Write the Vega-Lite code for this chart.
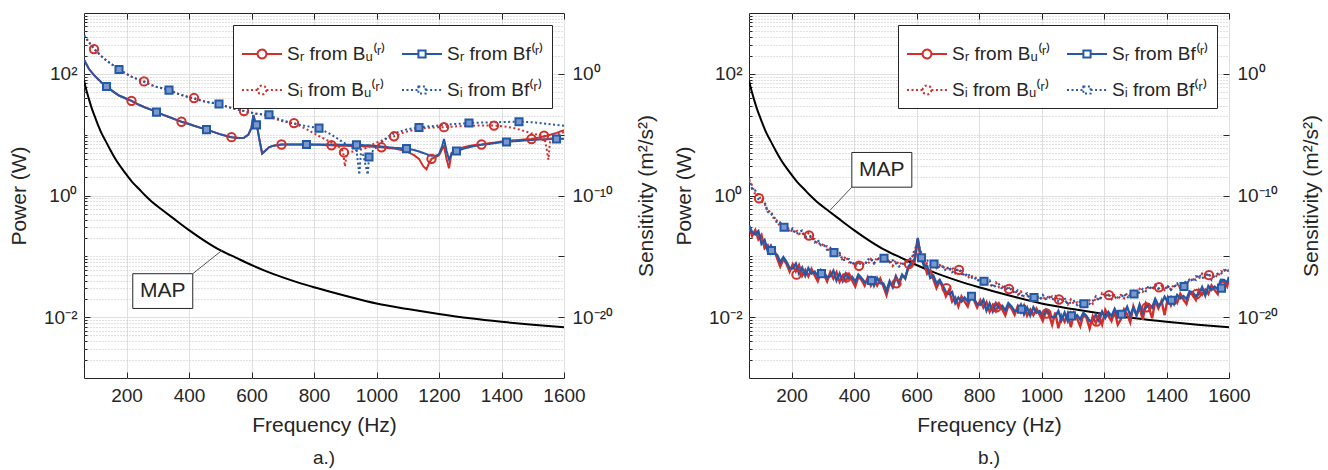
{
"$schema": "https://vega.github.io/schema/vega-lite/v6.json",
"background": "white",
"padding": {"left": 8, "top": 12, "right": 5, "bottom": 5},
"bounds": "flush",
"spacing": 185,
"config": {
  "font": "Liberation Sans",
  "view": {"stroke": "#262626", "strokeWidth": 1},
  "axis": {"labelFontSize": 19, "titleFontSize": 21, "titleFontWeight": "normal", "labelColor": "#262626", "titleColor": "#262626", "tickColor": "#262626", "domain": false, "gridColor": "#e0e0e0", "gridOpacity": 1},
  "title": {"color": "#262626"}
},
"datasets": {
  "map": [
    {"f":64,"v":78},{"f":70,"v":58},{"f":80,"v":38},{"f":90,"v":26},{"f":100,"v":19},{"f":110,"v":14},{"f":120,"v":10.6},{"f":133,"v":7.9},{"f":150,"v":5.4},{"f":167,"v":3.8},{"f":185,"v":2.8},{"f":200,"v":2.2},{"f":220,"v":1.63},{"f":240,"v":1.28},{"f":260,"v":1.0},{"f":280,"v":0.8},{"f":300,"v":0.66},{"f":320,"v":0.55},{"f":350,"v":0.42},{"f":400,"v":0.27},{"f":450,"v":0.18},{"f":500,"v":0.126},{"f":550,"v":0.095},{"f":600,"v":0.072},{"f":650,"v":0.056},{"f":700,"v":0.045},{"f":750,"v":0.037},{"f":800,"v":0.031},{"f":900,"v":0.0225},{"f":1000,"v":0.0168},{"f":1100,"v":0.0136},{"f":1200,"v":0.0113},{"f":1300,"v":0.0096},{"f":1400,"v":0.0084},{"f":1500,"v":0.0075},{"f":1600,"v":0.0068}
  ],
  "a_lines": [
    {"f":64,"a":170,"b":170,"c":430,"d":430},{"f":80,"a":120,"b":120,"c":330,"d":330},{"f":96,"a":95,"b":95,"c":255,"d":260},{"f":120,"a":72,"b":72,"c":195,"d":195},{"f":136,"a":62,"b":62,"c":165,"d":165},{"f":160,"a":50,"b":50,"c":135,"d":135},{"f":176,"a":44,"b":44,"c":118,"d":118},{"f":200,"a":39,"b":39,"c":100,"d":100},{"f":216,"a":36,"b":36,"c":90,"d":90},{"f":240,"a":31,"b":31,"c":80,"d":80},{"f":256,"a":28.5,"b":28.5,"c":75,"d":74},{"f":280,"a":25.5,"b":25.5,"c":66,"d":65},{"f":296,"a":23.5,"b":23.5,"c":61,"d":61},{"f":320,"a":21,"b":21,"c":57,"d":57},{"f":336,"a":19.5,"b":19.5,"c":54,"d":54},{"f":360,"a":17.5,"b":17.5,"c":48,"d":48},{"f":376,"a":16.3,"b":16.3,"c":45,"d":45},{"f":400,"a":15,"b":15,"c":41.5,"d":41},{"f":416,"a":14,"b":14,"c":40,"d":39},{"f":440,"a":12.8,"b":12.8,"c":36.5,"d":36},{"f":456,"a":12.1,"b":12.1,"c":34.5,"d":34.5},{"f":480,"a":11,"b":11,"c":33,"d":33},{"f":496,"a":10.3,"b":10.3,"c":31.5,"d":32},{"f":520,"a":9.5,"b":9.5,"c":29,"d":29},{"f":536,"a":9.1,"b":9.1,"c":27.5,"d":27.5},{"f":560,"a":8.8,"b":8.8,"c":25.5,"d":25.5},{"f":576,"a":8.9,"b":8.9,"c":24.5,"d":24.5},{"f":590,"a":10,"b":10,"c":23.5,"d":23.5},{"f":600,"a":13,"b":13,"c":23,"d":23},{"f":606,"a":21,"b":21,"c":22.5,"d":22.5},{"f":612,"a":16,"b":16,"c":22,"d":22},{"f":618,"a":13.5,"b":13.5,"c":22,"d":22},{"f":626,"a":8,"b":8,"c":21.8,"d":21.8},{"f":634,"a":4.9,"b":4.9,"c":21.5,"d":21.7},{"f":645,"a":5.5,"b":5.5,"c":20.7,"d":21.5},{"f":656,"a":6.2,"b":6.2,"c":20,"d":21.3},{"f":670,"a":6.6,"b":6.6,"c":18.5,"d":19.5},{"f":696,"a":6.9,"b":6.9,"c":16.8,"d":17.5},{"f":720,"a":6.9,"b":6.9,"c":15.8,"d":16},{"f":736,"a":6.9,"b":6.9,"c":15.5,"d":15.3},{"f":760,"a":6.9,"b":6.9,"c":13.5,"d":14.3},{"f":776,"a":6.9,"b":6.9,"c":12.3,"d":13.8},{"f":800,"a":6.8,"b":6.9,"c":10.5,"d":13.2},{"f":816,"a":6.8,"b":6.9,"c":9.5,"d":12.8},{"f":840,"a":6.7,"b":6.9,"c":8.2,"d":11},{"f":856,"a":6.7,"b":6.9,"c":7.5,"d":10},{"f":870,"a":6.6,"b":6.9,"c":6.8,"d":9},{"f":885,"a":6.6,"b":6.8,"c":6.0,"d":8},{"f":893,"a":6.6,"b":6.8,"c":5.3,"d":7.5},{"f":899,"a":6.6,"b":6.8,"c":3.0,"d":7.2},{"f":905,"a":6.6,"b":6.8,"c":5.0,"d":6.9},{"f":915,"a":6.5,"b":6.8,"c":5.2,"d":6.4},{"f":936,"a":6.5,"b":6.8,"c":5.4,"d":5.5},{"f":945,"a":6.5,"b":6.8,"c":5.6,"d":2.2},{"f":950,"a":6.5,"b":6.8,"c":5.7,"d":5.0},{"f":958,"a":6.4,"b":6.7,"c":5.8,"d":4.6},{"f":966,"a":6.4,"b":6.7,"c":6.0,"d":3.0},{"f":972,"a":6.4,"b":6.7,"c":6.2,"d":2.2},{"f":976,"a":6.4,"b":6.7,"c":6.3,"d":4.3},{"f":990,"a":6.3,"b":6.6,"c":7.0,"d":5.6},{"f":1016,"a":6.2,"b":6.4,"c":8.0,"d":7.5},{"f":1040,"a":6.0,"b":6.2,"c":8.9,"d":9.5},{"f":1056,"a":5.9,"b":6.1,"c":9.4,"d":10.5},{"f":1080,"a":5.6,"b":6.0,"c":10.5,"d":11.5},{"f":1096,"a":5.3,"b":5.9,"c":11.2,"d":12.2},{"f":1120,"a":4.6,"b":5.6,"c":12,"d":12.8},{"f":1136,"a":4.0,"b":5.3,"c":12.4,"d":13.1},{"f":1150,"a":3.0,"b":5.0,"c":12.7,"d":13.4},{"f":1160,"a":2.7,"b":4.8,"c":12.9,"d":13.6},{"f":1168,"a":3.4,"b":4.6,"c":13,"d":13.7},{"f":1176,"a":4.0,"b":4.5,"c":13.1,"d":13.8},{"f":1190,"a":4.3,"b":4.5,"c":13.2,"d":14},{"f":1200,"a":4.6,"b":4.8,"c":13.2,"d":14.2},{"f":1210,"a":5.8,"b":6.5,"c":13.3,"d":14.4},{"f":1216,"a":6.5,"b":8.5,"c":13.3,"d":14.5},{"f":1224,"a":4.0,"b":5.5,"c":13.4,"d":14.6},{"f":1232,"a":2.8,"b":3.9,"c":13.4,"d":14.7},{"f":1240,"a":5.0,"b":4.8,"c":13.5,"d":14.8},{"f":1256,"a":5.8,"b":5.4,"c":13.7,"d":15},{"f":1280,"a":6.2,"b":5.9,"c":13.9,"d":15.3},{"f":1296,"a":6.5,"b":6.2,"c":14,"d":15.5},{"f":1320,"a":6.8,"b":6.6,"c":14.1,"d":15.7},{"f":1336,"a":6.9,"b":6.8,"c":14.1,"d":15.8},{"f":1360,"a":7.2,"b":7.0,"c":14.1,"d":15.9},{"f":1376,"a":7.4,"b":7.2,"c":14.1,"d":16},{"f":1400,"a":7.7,"b":7.5,"c":13.8,"d":16.1},{"f":1416,"a":7.9,"b":7.6,"c":13.5,"d":16.2},{"f":1440,"a":8.1,"b":7.8,"c":12.8,"d":16.3},{"f":1456,"a":8.2,"b":7.9,"c":12.2,"d":16.3},{"f":1480,"a":8.4,"b":8.1,"c":11.2,"d":16.2},{"f":1496,"a":8.5,"b":8.2,"c":10.5,"d":16},{"f":1520,"a":9.0,"b":8.3,"c":9.9,"d":15.6},{"f":1536,"a":9.4,"b":8.4,"c":9.6,"d":15.3},{"f":1544,"a":9.6,"b":8.4,"c":6.0,"d":15.1},{"f":1550,"a":9.8,"b":8.4,"c":3.9,"d":15},{"f":1556,"a":10,"b":8.5,"c":8.5,"d":14.9},{"f":1576,"a":10.7,"b":8.5,"c":10,"d":14.5},{"f":1600,"a":11.8,"b":8.6,"c":11,"d":14}
  ],
  "a_mk": [
    {"f":216,"v":36,"s":"a"},{"f":376,"v":16.3,"s":"a"},{"f":536,"v":9.1,"s":"a"},{"f":696,"v":6.9,"s":"a"},{"f":856,"v":6.7,"s":"a"},{"f":1016,"v":6.2,"s":"a"},{"f":1176,"v":4.0,"s":"a"},{"f":1336,"v":6.9,"s":"a"},{"f":1496,"v":8.5,"s":"a"},
    {"f":136,"v":62,"s":"b"},{"f":296,"v":23.5,"s":"b"},{"f":456,"v":12.1,"s":"b"},{"f":616,"v":14.5,"s":"b"},{"f":776,"v":6.9,"s":"b"},{"f":936,"v":6.8,"s":"b"},{"f":1096,"v":5.9,"s":"b"},{"f":1256,"v":5.4,"s":"b"},{"f":1416,"v":7.6,"s":"b"},{"f":1576,"v":8.5,"s":"b"},
    {"f":96,"v":255,"s":"c"},{"f":256,"v":75,"s":"c"},{"f":416,"v":40,"s":"c"},{"f":576,"v":24.5,"s":"c"},{"f":736,"v":15.5,"s":"c"},{"f":896,"v":5.1,"s":"c"},{"f":1056,"v":9.4,"s":"c"},{"f":1216,"v":13.3,"s":"c"},{"f":1376,"v":14.1,"s":"c"},{"f":1536,"v":9.6,"s":"c"},
    {"f":176,"v":118,"s":"d"},{"f":336,"v":54,"s":"d"},{"f":496,"v":32,"s":"d"},{"f":656,"v":21.3,"s":"d"},{"f":816,"v":12.8,"s":"d"},{"f":976,"v":4.3,"s":"d"},{"f":1136,"v":13.1,"s":"d"},{"f":1296,"v":15.5,"s":"d"},{"f":1456,"v":16.3,"s":"d"}
  ],
  "b_mk": [
    {"f":216,"v":0.05,"s":"a"},{"f":376,"v":0.045,"s":"a"},{"f":536,"v":0.036,"s":"a"},{"f":696,"v":0.03,"s":"a"},{"f":856,"v":0.0145,"s":"a"},{"f":1016,"v":0.0115,"s":"a"},{"f":1176,"v":0.0085,"s":"a"},{"f":1336,"v":0.0145,"s":"a"},{"f":1496,"v":0.024,"s":"a"},
    {"f":136,"v":0.125,"s":"b"},{"f":296,"v":0.052,"s":"b"},{"f":456,"v":0.04,"s":"b"},{"f":616,"v":0.095,"s":"b"},{"f":776,"v":0.022,"s":"b"},{"f":936,"v":0.0135,"s":"b"},{"f":1096,"v":0.0105,"s":"b"},{"f":1256,"v":0.0112,"s":"b"},{"f":1416,"v":0.019,"s":"b"},{"f":1576,"v":0.03,"s":"b"},
    {"f":96,"v":0.9,"s":"c"},{"f":256,"v":0.22,"s":"c"},{"f":416,"v":0.07,"s":"c"},{"f":576,"v":0.075,"s":"c"},{"f":736,"v":0.06,"s":"c"},{"f":896,"v":0.029,"s":"c"},{"f":1056,"v":0.0195,"s":"c"},{"f":1216,"v":0.023,"s":"c"},{"f":1376,"v":0.031,"s":"c"},{"f":1536,"v":0.049,"s":"c"},
    {"f":176,"v":0.3,"s":"d"},{"f":336,"v":0.115,"s":"d"},{"f":496,"v":0.093,"s":"d"},{"f":656,"v":0.075,"s":"d"},{"f":816,"v":0.039,"s":"d"},{"f":976,"v":0.021,"s":"d"},{"f":1136,"v":0.0166,"s":"d"},{"f":1296,"v":0.024,"s":"d"},{"f":1456,"v":0.032,"s":"d"}
  ],
  "b_lines": [
    {"f":64,"a":0.30,"b":0.32,"c":1.8,"d":1.9},{"f":74,"a":0.216,"b":0.25,"c":1.46,"d":1.28},{"f":84,"a":0.27,"b":0.23,"c":1.02,"d":1.21},{"f":94,"a":0.19,"b":0.26,"c":1.05,"d":0.87},{"f":104,"a":0.225,"b":0.16,"c":0.81,"d":0.87},{"f":114,"a":0.135,"b":0.185,"c":0.735,"d":0.78},{"f":124,"a":0.152,"b":0.122,"c":0.54,"d":0.54},{"f":134,"a":0.112,"b":0.15,"c":0.56,"d":0.5},{"f":144,"a":0.132,"b":0.112,"c":0.41,"d":0.45},{"f":154,"a":0.093,"b":0.106,"c":0.385,"d":0.35},{"f":164,"a":0.068,"b":0.081,"c":0.30,"d":0.36},{"f":174,"a":0.09,"b":0.097,"c":0.32,"d":0.29},{"f":184,"a":0.075,"b":0.081,"c":0.28,"d":0.294},{"f":194,"a":0.056,"b":0.064,"c":0.29,"d":0.256},{"f":204,"a":0.074,"b":0.063,"c":0.242,"d":0.286},{"f":214,"a":0.057,"b":0.076,"c":0.277,"d":0.232},{"f":224,"a":0.072,"b":0.052,"c":0.233,"d":0.25},{"f":234,"a":0.048,"b":0.065,"c":0.249,"d":0.265},{"f":244,"a":0.06,"b":0.048,"c":0.207,"d":0.207},{"f":254,"a":0.047,"b":0.064,"c":0.24,"d":0.215},{"f":264,"a":0.062,"b":0.052,"c":0.194,"d":0.216},{"f":274,"a":0.049,"b":0.056,"c":0.192,"d":0.17},{"f":284,"a":0.039,"b":0.047,"c":0.156,"d":0.187},{"f":294,"a":0.056,"b":0.06,"c":0.168,"d":0.151},{"f":304,"a":0.05,"b":0.054,"c":0.145,"d":0.152},{"f":314,"a":0.039,"b":0.045,"c":0.146,"d":0.128},{"f":324,"a":0.055,"b":0.047,"c":0.116,"d":0.138},{"f":334,"a":0.043,"b":0.058,"c":0.129,"d":0.108},{"f":344,"a":0.055,"b":0.04,"c":0.104,"d":0.112},{"f":354,"a":0.038,"b":0.052,"c":0.107,"d":0.114},{"f":364,"a":0.048,"b":0.039,"c":0.086,"d":0.086},{"f":374,"a":0.039,"b":0.052,"c":0.1,"d":0.089},{"f":384,"a":0.051,"b":0.043,"c":0.08,"d":0.09},{"f":394,"a":0.04,"b":0.046,"c":0.081,"d":0.073},{"f":404,"a":0.032,"b":0.038,"c":0.068,"d":0.081},{"f":414,"a":0.046,"b":0.05,"c":0.079,"d":0.071},{"f":424,"a":0.041,"b":0.044,"c":0.075,"d":0.079},{"f":434,"a":0.033,"b":0.038,"c":0.083,"d":0.071},{"f":444,"a":0.045,"b":0.038,"c":0.074,"d":0.088},{"f":454,"a":0.033,"b":0.045,"c":0.09,"d":0.092},{"f":464,"a":0.041,"b":0.033,"c":0.077,"d":0.077},{"f":474,"a":0.033,"b":0.044,"c":0.097,"d":0.087},{"f":484,"a":0.043,"b":0.036,"c":0.087,"d":0.097},{"f":494,"a":0.032,"b":0.036,"c":0.094,"d":0.085},{"f":504,"a":0.023,"b":0.027,"c":0.081,"d":0.097},{"f":514,"a":0.036,"b":0.039,"c":0.089,"d":0.08},{"f":524,"a":0.033,"b":0.031,"c":0.07,"d":0.086},{"f":534,"a":0.047,"b":0.046,"c":0.086,"d":0.077},{"f":544,"a":0.035,"b":0.037,"c":0.073,"d":0.068},{"f":554,"a":0.048,"b":0.05,"c":0.079,"d":0.074},{"f":564,"a":0.046,"b":0.043,"c":0.072,"d":0.081},{"f":574,"a":0.064,"b":0.068,"c":0.089,"d":0.087},{"f":584,"a":0.072,"b":0.078,"c":0.09,"d":0.095},{"f":594,"a":0.081,"b":0.09,"c":0.13,"d":0.11},{"f":604,"a":0.19,"b":0.2,"c":0.16,"d":0.165},{"f":614,"a":0.087,"b":0.095,"c":0.1,"d":0.12},{"f":624,"a":0.079,"b":0.07,"c":0.095,"d":0.083},{"f":634,"a":0.052,"b":0.07,"c":0.075,"d":0.085},{"f":644,"a":0.06,"b":0.044,"c":0.071,"d":0.084},{"f":654,"a":0.042,"b":0.048,"c":0.075,"d":0.068},{"f":664,"a":0.03,"b":0.036,"c":0.064,"d":0.077},{"f":674,"a":0.039,"b":0.041,"c":0.072,"d":0.064},{"f":684,"a":0.031,"b":0.033,"c":0.065,"d":0.068},{"f":694,"a":0.022,"b":0.026,"c":0.068,"d":0.058},{"f":704,"a":0.028,"b":0.024,"c":0.058,"d":0.068},{"f":714,"a":0.018,"b":0.026,"c":0.066,"d":0.055},{"f":724,"a":0.021,"b":0.017,"c":0.053,"d":0.06},{"f":734,"a":0.015,"b":0.021,"c":0.063,"d":0.06},{"f":744,"a":0.022,"b":0.018,"c":0.051,"d":0.057},{"f":754,"a":0.018,"b":0.021,"c":0.052,"d":0.047},{"f":764,"a":0.015,"b":0.018,"c":0.044,"d":0.053},{"f":774,"a":0.022,"b":0.024,"c":0.049,"d":0.044},{"f":784,"a":0.019,"b":0.02,"c":0.044,"d":0.046},{"f":794,"a":0.0144,"b":0.0166,"c":0.045,"d":0.039},{"f":804,"a":0.019,"b":0.016,"c":0.037,"d":0.044},{"f":814,"a":0.0144,"b":0.0192,"c":0.042,"d":0.035},{"f":824,"a":0.0177,"b":0.0128,"c":0.036,"d":0.038},{"f":834,"a":0.0123,"b":0.0168,"c":0.0355,"d":0.04},{"f":844,"a":0.0158,"b":0.0124,"c":0.031,"d":0.031},{"f":854,"a":0.0126,"b":0.017,"c":0.037,"d":0.033},{"f":864,"a":0.0168,"b":0.0142,"c":0.031,"d":0.0346},{"f":874,"a":0.0135,"b":0.0154,"c":0.032,"d":0.029},{"f":884,"a":0.0107,"b":0.0129,"c":0.028,"d":0.033},{"f":894,"a":0.0155,"b":0.017,"c":0.031,"d":0.028},{"f":904,"a":0.0139,"b":0.015,"c":0.0275,"d":0.029},{"f":914,"a":0.011,"b":0.0126,"c":0.028,"d":0.025},{"f":924,"a":0.0151,"b":0.013,"c":0.023,"d":0.0275},{"f":934,"a":0.012,"b":0.016,"c":0.0264,"d":0.022},{"f":944,"a":0.0155,"b":0.0111,"c":0.022,"d":0.0235},{"f":954,"a":0.0106,"b":0.0144,"c":0.023,"d":0.0246},{"f":964,"a":0.0133,"b":0.0107,"c":0.019,"d":0.019},{"f":974,"a":0.0108,"b":0.0145,"c":0.0235,"d":0.021},{"f":984,"a":0.0138,"b":0.0118,"c":0.0204,"d":0.0227},{"f":994,"a":0.011,"b":0.0126,"c":0.0218,"d":0.0197},{"f":1004,"a":0.0087,"b":0.0104,"c":0.0193,"d":0.0231},{"f":1014,"a":0.0124,"b":0.0133,"c":0.0221,"d":0.0199},{"f":1024,"a":0.011,"b":0.0119,"c":0.0205,"d":0.0215},{"f":1034,"a":0.0075,"b":0.0099,"c":0.0219,"d":0.0193},{"f":1044,"a":0.0119,"b":0.0102,"c":0.0186,"d":0.022},{"f":1054,"a":0.0066,"b":0.0126,"c":0.0215,"d":0.018},{"f":1064,"a":0.0106,"b":0.0089,"c":0.018,"d":0.0194},{"f":1074,"a":0.0084,"b":0.0119,"c":0.0194,"d":0.0207},{"f":1084,"a":0.0114,"b":0.0086,"c":0.0162,"d":0.0162},{"f":1094,"a":0.0068,"b":0.0118,"c":0.0196,"d":0.0175},{"f":1104,"a":0.0117,"b":0.0099,"c":0.0165,"d":0.0184},{"f":1114,"a":0.0095,"b":0.0108,"c":0.0175,"d":0.0158},{"f":1124,"a":0.0071,"b":0.0092,"c":0.0153,"d":0.0183},{"f":1134,"a":0.011,"b":0.0118,"c":0.018,"d":0.0161},{"f":1144,"a":0.0097,"b":0.0105,"c":0.017,"d":0.0179},{"f":1154,"a":0.0065,"b":0.0086,"c":0.0189,"d":0.0166},{"f":1164,"a":0.0103,"b":0.0088,"c":0.0167,"d":0.0184},{"f":1174,"a":0.008,"b":0.011,"c":0.021,"d":0.022},{"f":1184,"a":0.0108,"b":0.0087,"c":0.0189,"d":0.0189},{"f":1194,"a":0.0076,"b":0.0123,"c":0.0246,"d":0.022},{"f":1204,"a":0.0132,"b":0.0097,"c":0.0223,"d":0.0248},{"f":1214,"a":0.0105,"b":0.0122,"c":0.0234,"d":0.0212},{"f":1224,"a":0.0086,"b":0.0104,"c":0.0198,"d":0.0242},{"f":1234,"a":0.0127,"b":0.0136,"c":0.023,"d":0.0206},{"f":1244,"a":0.0075,"b":0.011,"c":0.021,"d":0.022},{"f":1254,"a":0.0092,"b":0.0106,"c":0.0232,"d":0.0204},{"f":1264,"a":0.0134,"b":0.0115,"c":0.0205,"d":0.0242},{"f":1274,"a":0.0111,"b":0.0148,"c":0.0248,"d":0.0207},{"f":1284,"a":0.0082,"b":0.0107,"c":0.0219,"d":0.0235},{"f":1294,"a":0.0151,"b":0.0143,"c":0.0252,"d":0.0269},{"f":1304,"a":0.0107,"b":0.0109,"c":0.0225,"d":0.0225},{"f":1314,"a":0.0143,"b":0.0162,"c":0.0291,"d":0.026},{"f":1324,"a":0.0091,"b":0.0119,"c":0.0262,"d":0.0292},{"f":1334,"a":0.017,"b":0.0143,"c":0.0296,"d":0.0268},{"f":1344,"a":0.0143,"b":0.0163,"c":0.0312,"d":0.033},{"f":1354,"a":0.0096,"b":0.0144,"c":0.0281,"d":0.0287},{"f":1364,"a":0.0185,"b":0.0198,"c":0.0341,"d":0.0341},{"f":1374,"a":0.0139,"b":0.0156,"c":0.0296,"d":0.0293},{"f":1384,"a":0.0184,"b":0.0168,"c":0.033,"d":0.0315},{"f":1394,"a":0.0108,"b":0.0216,"c":0.0279,"d":0.0285},{"f":1404,"a":0.0207,"b":0.0178,"c":0.032,"d":0.033},{"f":1414,"a":0.0156,"b":0.0213,"c":0.0285,"d":0.0281},{"f":1424,"a":0.0205,"b":0.0164,"c":0.0347,"d":0.0316},{"f":1434,"a":0.0172,"b":0.0232,"c":0.031,"d":0.0358},{"f":1444,"a":0.0242,"b":0.0204,"c":0.0343,"d":0.0297},{"f":1454,"a":0.0195,"b":0.0223,"c":0.033,"d":0.0329},{"f":1464,"a":0.0165,"b":0.0198,"c":0.0385,"d":0.0407},{"f":1474,"a":0.0248,"b":0.0266,"c":0.0417,"d":0.0374},{"f":1484,"a":0.0235,"b":0.0254,"c":0.041,"d":0.043},{"f":1494,"a":0.0192,"b":0.0221,"c":0.047,"d":0.041},{"f":1504,"a":0.028,"b":0.024,"c":0.0428,"d":0.0506},{"f":1514,"a":0.0234,"b":0.0312,"c":0.0517,"d":0.0432},{"f":1524,"a":0.0284,"b":0.0227,"c":0.0446,"d":0.049},{"f":1534,"a":0.0241,"b":0.0325,"c":0.0526,"d":0.0526},{"f":1544,"a":0.0334,"b":0.0281,"c":0.0446,"d":0.0414},{"f":1554,"a":0.0279,"b":0.0318,"c":0.0499,"d":0.048},{"f":1564,"a":0.024,"b":0.0288,"c":0.046,"d":0.0518},{"f":1574,"a":0.0385,"b":0.0413,"c":0.0567,"d":0.0509},{"f":1584,"a":0.038,"b":0.041,"c":0.056,"d":0.059},{"f":1594,"a":0.032,"b":0.037,"c":0.063,"d":0.055},{"f":1600,"a":0.044,"b":0.046,"c":0.06,"d":0.062}
  ]
},
"hconcat": [
  {
    "width": 480, "height": 365,
    "title": {"text": "a.)", "orient": "bottom", "fontSize": 19, "fontWeight": "normal", "offset": 14},
    "layer": [
      {
        "resolve": {"axis": {"x": "independent", "y": "independent"}},
        "layer": [
          {
            "data": {"name": "map"},
            "mark": {"type": "line", "color": "black", "strokeWidth": 2, "interpolate": "monotone", "clip": true},
            "encoding": {
              "x": {"field": "f", "type": "quantitative", "scale": {"domain": [64, 1600], "nice": false, "zero": false}, "axis": {"orient": "bottom", "values": [200,400,600,800,1000,1200,1400,1600], "format": "d", "title": "Frequency (Hz)", "grid": true, "tickSize": -6, "labelPadding": 14, "titlePadding": 9, "labelFlush": false, "labelOverlap": false}},
              "y": {"field": "v", "type": "quantitative", "scale": {"type": "log", "domain": [0.001, 1000], "nice": false}, "axis": {"values": [0.01, 1, 100], "labelExpr": "datum.value == 100 ? '10²' : datum.value == 1 ? '10⁰' : '10⁻²'", "title": "Power (W)", "grid": true, "tickSize": -6, "labelPadding": 13, "titlePadding": 14}}
            }
          },
          {
            "data": {"name": "a_lines"},
            "mark": {"type": "line", "strokeWidth": 2, "color": "#D22E2A", "clip": true},
            "encoding": {
              "x": {"field": "f", "type": "quantitative", "axis": {"orient": "top", "values": [200,400,600,800,1000,1200,1400,1600], "labels": false, "tickSize": -6, "grid": false, "title": null}},
              "y": {"field": "a", "type": "quantitative", "axis": {"orient": "left", "values": [0.002,0.003,0.004,0.005,0.006,0.007,0.008,0.009,0.02,0.03,0.04,0.05,0.06,0.07,0.08,0.09,0.1,0.2,0.3,0.4,0.5,0.6,0.7,0.8,0.9,2,3,4,5,6,7,8,9,10,20,30,40,50,60,70,80,90,200,300,400,500,600,700,800,900], "labels": false, "tickSize": -3, "grid": true, "gridDash": [1, 2], "gridColor": "#c2c2c2", "title": null}}
            }
          },
          {
            "data": {"name": "a_lines"},
            "mark": {"type": "line", "strokeWidth": 2, "color": "#2459A8", "clip": true},
            "encoding": {
              "x": {"field": "f", "type": "quantitative", "axis": null},
              "y": {"field": "b", "type": "quantitative", "axis": null}
            }
          },
          {
            "data": {"name": "a_lines"},
            "mark": {"type": "line", "strokeWidth": 2, "color": "#D22E2A", "strokeDash": [2, 2.5], "clip": true},
            "encoding": {
              "x": {"field": "f", "type": "quantitative", "axis": null},
              "y": {"field": "c", "type": "quantitative", "axis": null}
            }
          },
          {
            "data": {"name": "a_lines"},
            "mark": {"type": "line", "strokeWidth": 2, "color": "#2459A8", "strokeDash": [2, 2.5], "clip": true},
            "encoding": {
              "x": {"field": "f", "type": "quantitative", "axis": null},
              "y": {"field": "d", "type": "quantitative", "axis": null}
            }
          },
          {
            "data": {"name": "a_mk"},
            "transform": [{"filter": {"field": "s", "oneOf": ["a", "c"]}}],
            "mark": {"type": "point", "shape": "circle", "filled": false, "size": 70, "strokeWidth": 2, "color": "#D22E2A", "opacity": 1},
            "encoding": {
              "x": {"field": "f", "type": "quantitative", "axis": null},
              "y": {"field": "v", "type": "quantitative", "axis": null}
            }
          },
          {
            "data": {"name": "a_mk"},
            "transform": [{"filter": {"field": "s", "oneOf": ["b", "d"]}}],
            "mark": {"type": "point", "shape": "square", "filled": true, "size": 50, "strokeWidth": 2, "fill": "#7a98cc", "stroke": "#2459A8", "opacity": 1},
            "encoding": {
              "x": {"field": "f", "type": "quantitative", "axis": null},
              "y": {"field": "v", "type": "quantitative", "axis": null}
            }
          },
          {
            "data": {"values": [{"f": 412, "v": 0.0518, "f2": 506, "v2": 0.126}]},
            "mark": {"type": "rule", "color": "#555555", "strokeWidth": 1},
            "encoding": {
              "x": {"field": "f", "type": "quantitative", "axis": null},
              "y": {"field": "v", "type": "quantitative", "axis": null},
              "x2": {"field": "f2"},
              "y2": {"field": "v2"}
            }
          },
          {
            "data": {"values": [{"f": 220, "v": 0.0139, "f2": 412, "v2": 0.0518}]},
            "mark": {"type": "rect", "fill": "white", "stroke": "#262626", "strokeWidth": 1},
            "encoding": {
              "x": {"field": "f", "type": "quantitative", "axis": null},
              "y": {"field": "v", "type": "quantitative", "axis": null},
              "x2": {"field": "f2"},
              "y2": {"field": "v2"}
            }
          },
          {
            "data": {"values": [{"f": 316, "v": 0.027, "t": "MAP"}]},
            "mark": {"type": "text", "fontSize": 21, "color": "#262626", "align": "center", "baseline": "middle"},
            "encoding": {
              "x": {"field": "f", "type": "quantitative", "axis": null},
              "y": {"field": "v", "type": "quantitative", "axis": null},
              "text": {"field": "t"}
            }
          },
          {
            "data": {"name": "a_mk"},
            "mark": {"type": "point", "filled": false, "opacity": 0},
            "encoding": {
              "x": {"field": "f", "type": "quantitative", "axis": null},
              "y": {"field": "v", "type": "quantitative", "axis": null},
              "color": {"field": "s", "type": "nominal", "scale": {"domain": ["a","b","c","d"], "range": ["#D22E2A","#2459A8","#D22E2A","#2459A8"]}, "legend": {"orient": "top-right", "direction": "horizontal", "offset": 12, "columns": 2, "title": null, "fillColor": "white", "strokeColor": "#262626", "padding": 8, "rowPadding": 5, "columnPadding": 12, "symbolSize": 1600, "symbolStrokeWidth": 2, "labelFontSize": 19, "labelOffset": 4, "labelColor": "#262626", "labelLimit": 400, "labelExpr": "datum.label == 'a' ? 'Sᵣ from Bᵤ⁽ʳ⁾' : datum.label == 'b' ? 'Sᵣ from Bf⁽ʳ⁾' : datum.label == 'c' ? 'Sᵢ from Bᵤ⁽ʳ⁾' : 'Sᵢ from Bf⁽ʳ⁾'"}},
              "shape": {"field": "s", "type": "nominal", "scale": {"domain": ["a","b","c","d"], "range": ["M-1,0L-0.22,0M0.22,0L1,0M-0.22,0A0.22,0.22,0,1,1,0.22,0A0.22,0.22,0,1,1,-0.22,0", "M-1,0L-0.18,0M0.18,0L1,0M-0.18,-0.18L0.18,-0.18L0.18,0.18L-0.18,0.18Z", "M-1,0L-0.22,0M0.22,0L1,0M-0.22,0A0.22,0.22,0,1,1,0.22,0A0.22,0.22,0,1,1,-0.22,0", "M-1,0L-0.18,0M0.18,0L1,0M-0.18,-0.18L0.18,-0.18L0.18,0.18L-0.18,0.18Z"]}},
              "strokeDash": {"field": "s", "type": "nominal", "scale": {"domain": ["a","b","c","d"], "range": [[1,0],[1,0],[2,2.5],[2,2.5]]}}
            }
          }
        ]
      },
      {
        "data": {"values": [{"s": 1}]},
        "mark": {"type": "point", "opacity": 0},
        "encoding": {
          "y": {"field": "s", "type": "quantitative", "scale": {"type": "log", "domain": [1e-25, 1e5], "nice": false}, "axis": {"orient": "right", "values": [1e-20, 1e-15, 1e-10, 1e-5, 1], "labelExpr": "datum.value == 1 ? '10⁰' : datum.value == 1e-10 ? '10⁻¹⁰' : datum.value == 1e-20 ? '10⁻²⁰' : ''", "title": "Sensitivity (m²/s²)", "titleAngle": -90, "titleBaseline": "top", "grid": false, "tickSize": -6, "labelPadding": 14, "titlePadding": 23}}
        }
      }
    ],
    "resolve": {"scale": {"y": "independent"}}
  },
  {
    "width": 480, "height": 365,
    "title": {"text": "b.)", "orient": "bottom", "fontSize": 19, "fontWeight": "normal", "offset": 14},
    "layer": [
      {
        "resolve": {"axis": {"x": "independent", "y": "independent"}},
        "layer": [
          {
            "data": {"name": "map"},
            "mark": {"type": "line", "color": "black", "strokeWidth": 2, "interpolate": "monotone", "clip": true},
            "encoding": {
              "x": {"field": "f", "type": "quantitative", "scale": {"domain": [64, 1600], "nice": false, "zero": false}, "axis": {"orient": "bottom", "values": [200,400,600,800,1000,1200,1400,1600], "format": "d", "title": "Frequency (Hz)", "grid": true, "tickSize": -6, "labelPadding": 14, "titlePadding": 9, "labelFlush": false, "labelOverlap": false}},
              "y": {"field": "v", "type": "quantitative", "scale": {"type": "log", "domain": [0.001, 1000], "nice": false}, "axis": {"values": [0.01, 1, 100], "labelExpr": "datum.value == 100 ? '10²' : datum.value == 1 ? '10⁰' : '10⁻²'", "title": "Power (W)", "grid": true, "tickSize": -6, "labelPadding": 13, "titlePadding": 14}}
            }
          },
          {
            "data": {"name": "b_lines"},
            "mark": {"type": "line", "strokeWidth": 2.4, "color": "#D22E2A", "clip": true},
            "encoding": {
              "x": {"field": "f", "type": "quantitative", "axis": {"orient": "top", "values": [200,400,600,800,1000,1200,1400,1600], "labels": false, "tickSize": -6, "grid": false, "title": null}},
              "y": {"field": "a", "type": "quantitative", "axis": {"orient": "left", "values": [0.002,0.003,0.004,0.005,0.006,0.007,0.008,0.009,0.02,0.03,0.04,0.05,0.06,0.07,0.08,0.09,0.1,0.2,0.3,0.4,0.5,0.6,0.7,0.8,0.9,2,3,4,5,6,7,8,9,10,20,30,40,50,60,70,80,90,200,300,400,500,600,700,800,900], "labels": false, "tickSize": -3, "grid": true, "gridDash": [1, 2], "gridColor": "#c2c2c2", "title": null}}
            }
          },
          {
            "data": {"name": "b_lines"},
            "mark": {"type": "line", "strokeWidth": 2.4, "color": "#2459A8", "clip": true},
            "encoding": {
              "x": {"field": "f", "type": "quantitative", "axis": null},
              "y": {"field": "b", "type": "quantitative", "axis": null}
            }
          },
          {
            "data": {"name": "b_lines"},
            "mark": {"type": "line", "strokeWidth": 2.2, "color": "#D22E2A", "strokeDash": [2, 2.5], "clip": true},
            "encoding": {
              "x": {"field": "f", "type": "quantitative", "axis": null},
              "y": {"field": "c", "type": "quantitative", "axis": null}
            }
          },
          {
            "data": {"name": "b_lines"},
            "mark": {"type": "line", "strokeWidth": 2.2, "color": "#2459A8", "strokeDash": [2, 2.5], "clip": true},
            "encoding": {
              "x": {"field": "f", "type": "quantitative", "axis": null},
              "y": {"field": "d", "type": "quantitative", "axis": null}
            }
          },
          {
            "data": {"name": "b_mk"},
            "transform": [{"filter": {"field": "s", "oneOf": ["a", "c"]}}],
            "mark": {"type": "point", "shape": "circle", "filled": false, "size": 70, "strokeWidth": 2, "color": "#D22E2A", "opacity": 1},
            "encoding": {
              "x": {"field": "f", "type": "quantitative", "axis": null},
              "y": {"field": "v", "type": "quantitative", "axis": null}
            }
          },
          {
            "data": {"name": "b_mk"},
            "transform": [{"filter": {"field": "s", "oneOf": ["b", "d"]}}],
            "mark": {"type": "point", "shape": "square", "filled": true, "size": 50, "strokeWidth": 2, "fill": "#7a98cc", "stroke": "#2459A8", "opacity": 1},
            "encoding": {
              "x": {"field": "f", "type": "quantitative", "axis": null},
              "y": {"field": "v", "type": "quantitative", "axis": null}
            }
          },
          {
            "data": {"values": [{"f": 393, "v": 1.37, "f2": 323, "v2": 0.57}]},
            "mark": {"type": "rule", "color": "#555555", "strokeWidth": 1},
            "encoding": {
              "x": {"field": "f", "type": "quantitative", "axis": null},
              "y": {"field": "v", "type": "quantitative", "axis": null},
              "x2": {"field": "f2"},
              "y2": {"field": "v2"}
            }
          },
          {
            "data": {"values": [{"f": 393, "v": 1.37, "f2": 585, "v2": 5.1}]},
            "mark": {"type": "rect", "fill": "white", "stroke": "#262626", "strokeWidth": 1},
            "encoding": {
              "x": {"field": "f", "type": "quantitative", "axis": null},
              "y": {"field": "v", "type": "quantitative", "axis": null},
              "x2": {"field": "f2"},
              "y2": {"field": "v2"}
            }
          },
          {
            "data": {"values": [{"f": 489, "v": 2.64, "t": "MAP"}]},
            "mark": {"type": "text", "fontSize": 21, "color": "#262626", "align": "center", "baseline": "middle"},
            "encoding": {
              "x": {"field": "f", "type": "quantitative", "axis": null},
              "y": {"field": "v", "type": "quantitative", "axis": null},
              "text": {"field": "t"}
            }
          },
          {
            "data": {"name": "b_mk"},
            "mark": {"type": "point", "filled": false, "opacity": 0},
            "encoding": {
              "x": {"field": "f", "type": "quantitative", "axis": null},
              "y": {"field": "v", "type": "quantitative", "axis": null},
              "color": {"field": "s", "type": "nominal", "scale": {"domain": ["a","b","c","d"], "range": ["#D22E2A","#2459A8","#D22E2A","#2459A8"]}, "legend": {"orient": "top-right", "direction": "horizontal", "offset": 12, "columns": 2, "title": null, "fillColor": "white", "strokeColor": "#262626", "padding": 8, "rowPadding": 5, "columnPadding": 12, "symbolSize": 1600, "symbolStrokeWidth": 2, "labelFontSize": 19, "labelOffset": 4, "labelColor": "#262626", "labelLimit": 400, "labelExpr": "datum.label == 'a' ? 'Sᵣ from Bᵤ⁽ʳ⁾' : datum.label == 'b' ? 'Sᵣ from Bf⁽ʳ⁾' : datum.label == 'c' ? 'Sᵢ from Bᵤ⁽ʳ⁾' : 'Sᵢ from Bf⁽ʳ⁾'"}},
              "shape": {"field": "s", "type": "nominal", "scale": {"domain": ["a","b","c","d"], "range": ["M-1,0L-0.22,0M0.22,0L1,0M-0.22,0A0.22,0.22,0,1,1,0.22,0A0.22,0.22,0,1,1,-0.22,0", "M-1,0L-0.18,0M0.18,0L1,0M-0.18,-0.18L0.18,-0.18L0.18,0.18L-0.18,0.18Z", "M-1,0L-0.22,0M0.22,0L1,0M-0.22,0A0.22,0.22,0,1,1,0.22,0A0.22,0.22,0,1,1,-0.22,0", "M-1,0L-0.18,0M0.18,0L1,0M-0.18,-0.18L0.18,-0.18L0.18,0.18L-0.18,0.18Z"]}},
              "strokeDash": {"field": "s", "type": "nominal", "scale": {"domain": ["a","b","c","d"], "range": [[1,0],[1,0],[2,2.5],[2,2.5]]}}
            }
          }
        ]
      },
      {
        "data": {"values": [{"s": 1}]},
        "mark": {"type": "point", "opacity": 0},
        "encoding": {
          "y": {"field": "s", "type": "quantitative", "scale": {"type": "log", "domain": [1e-25, 1e5], "nice": false}, "axis": {"orient": "right", "values": [1e-20, 1e-15, 1e-10, 1e-5, 1], "labelExpr": "datum.value == 1 ? '10⁰' : datum.value == 1e-10 ? '10⁻¹⁰' : datum.value == 1e-20 ? '10⁻²⁰' : ''", "title": "Sensitivity (m²/s²)", "titleAngle": -90, "titleBaseline": "top", "grid": false, "tickSize": -6, "labelPadding": 14, "titlePadding": 23}}
        }
      }
    ],
    "resolve": {"scale": {"y": "independent"}}
  }
],
"resolve": {"legend": {"color": "independent", "shape": "independent", "strokeDash": "independent"}}
}
